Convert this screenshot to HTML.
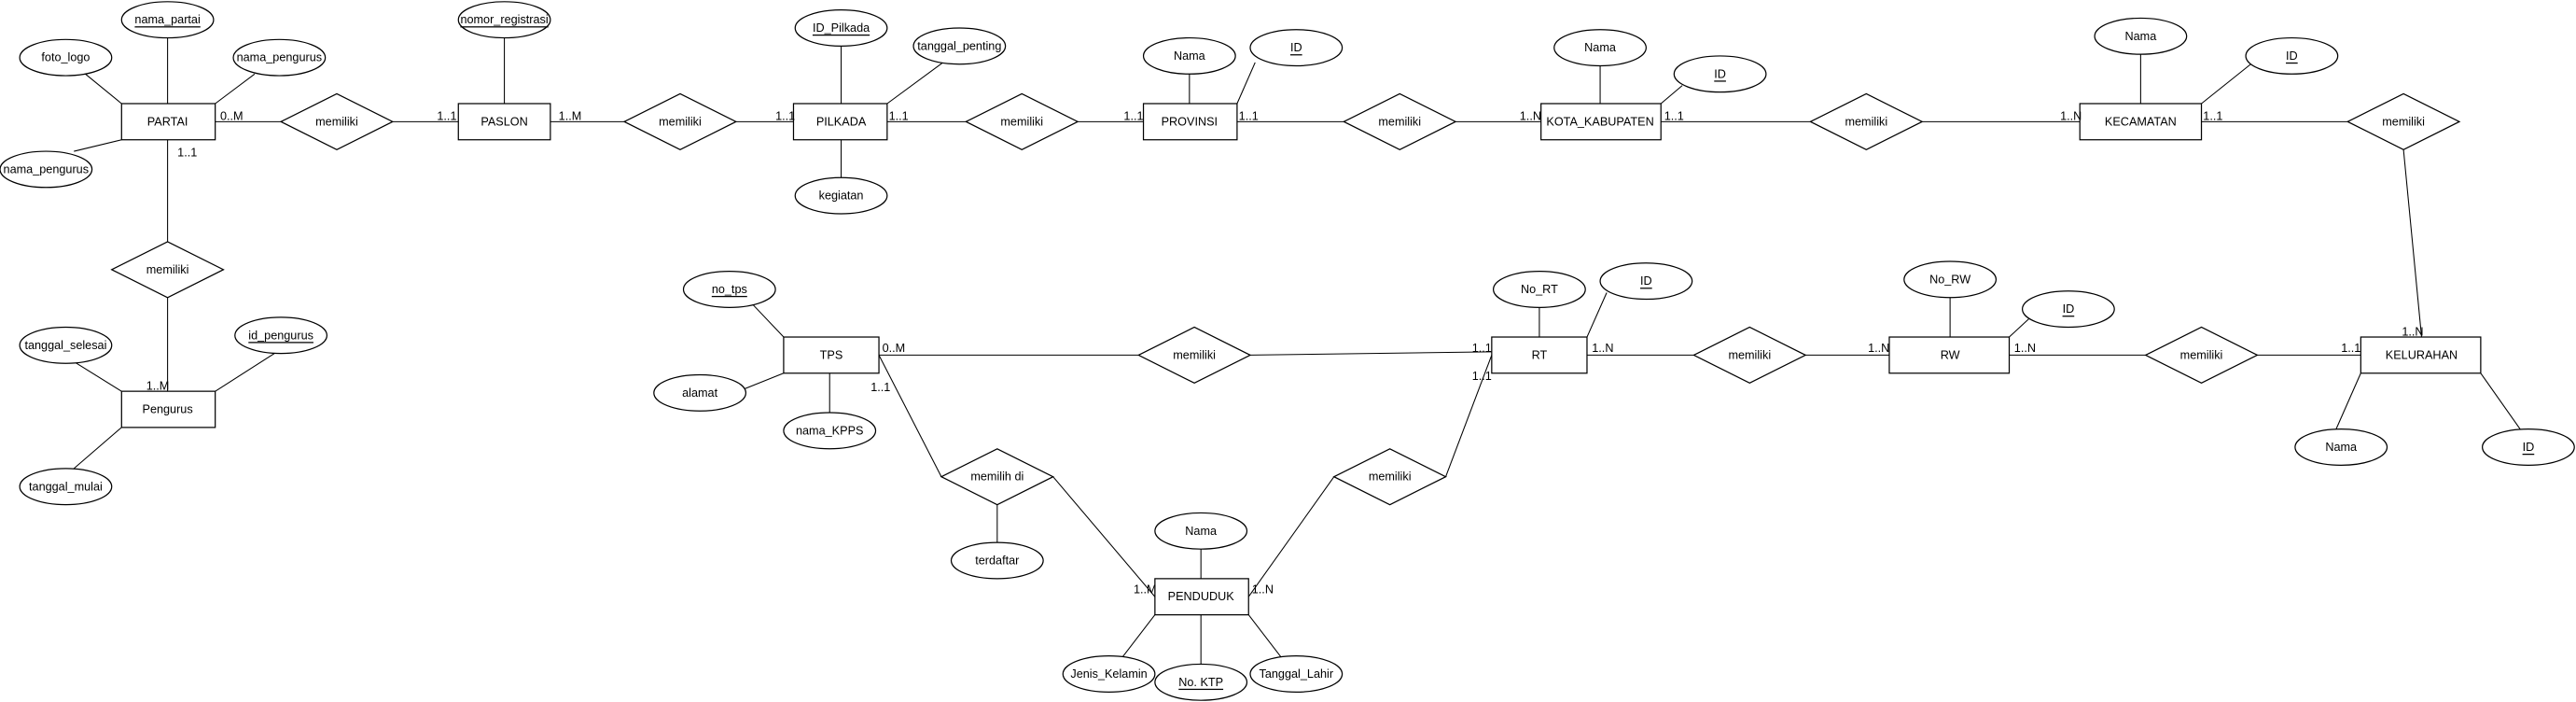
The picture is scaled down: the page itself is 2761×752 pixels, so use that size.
<!DOCTYPE html>
<html><head><meta charset="utf-8"><style>
html,body{margin:0;padding:0;background:#fff}
svg{display:block}
text{font-family:"Liberation Sans",sans-serif;font-size:7.2px;fill:#000}
</style></head><body>
<svg width="2761" height="752" viewBox="0 0 1568 427" xmlns="http://www.w3.org/2000/svg">
<g stroke="#000" stroke-width="0.6" fill="none">
<line x1="74" y1="63" x2="52" y2="45"/><line x1="102" y1="23" x2="102" y2="63"/><line x1="131" y1="63" x2="155" y2="45"/><line x1="74" y1="85" x2="45" y2="92"/>
<line x1="131" y1="74" x2="171" y2="74"/><line x1="239" y1="74" x2="279" y2="74"/>
<line x1="307" y1="23" x2="307" y2="63"/>
<line x1="335" y1="74" x2="380" y2="74"/><line x1="448" y1="74" x2="483" y2="74"/>
<line x1="512" y1="28" x2="512" y2="63"/><line x1="512" y1="85" x2="512" y2="108"/><line x1="540" y1="63" x2="574" y2="38"/>
<line x1="540" y1="74" x2="588" y2="74"/><line x1="656" y1="74" x2="696" y2="74"/>
<line x1="724" y1="45" x2="724" y2="63"/><line x1="753" y1="63" x2="764" y2="38"/>
<line x1="753" y1="74" x2="818" y2="74"/><line x1="886" y1="74" x2="938" y2="74"/>
<line x1="974" y1="40" x2="974" y2="63"/><line x1="1011" y1="63" x2="1024" y2="52"/>
<line x1="1011" y1="74" x2="1102" y2="74"/><line x1="1170" y1="74" x2="1266" y2="74"/>
<line x1="1303" y1="33" x2="1303" y2="63"/><line x1="1340" y1="63" x2="1370" y2="39"/>
<line x1="1340" y1="74" x2="1429" y2="74"/><line x1="1463" y1="91" x2="1474" y2="205"/>
<line x1="1437" y1="227" x2="1422" y2="261"/><line x1="1510" y1="227" x2="1534" y2="261"/>
<line x1="1374" y1="216" x2="1437" y2="216"/><line x1="1223" y1="216" x2="1306" y2="216"/>
<line x1="1187" y1="181" x2="1187" y2="205"/><line x1="1223" y1="205" x2="1236" y2="193"/>
<line x1="1099" y1="216" x2="1150" y2="216"/><line x1="966" y1="216" x2="1031" y2="216"/>
<line x1="937" y1="187" x2="937" y2="205"/><line x1="966" y1="205" x2="978" y2="178"/>
<line x1="761" y1="216" x2="908" y2="214"/><line x1="535" y1="216" x2="693" y2="216"/>
<line x1="477" y1="205" x2="458" y2="185"/><line x1="477" y1="227" x2="452" y2="237"/><line x1="505" y1="227" x2="505" y2="251"/>
<line x1="535" y1="216" x2="573" y2="290"/><line x1="641" y1="290" x2="703" y2="363"/><line x1="607" y1="307" x2="607" y2="330"/>
<line x1="880" y1="290" x2="908" y2="216"/><line x1="812" y1="290" x2="760" y2="363"/>
<line x1="731" y1="334" x2="731" y2="352"/><line x1="703" y1="374" x2="683" y2="400"/><line x1="731" y1="374" x2="731" y2="404"/><line x1="760" y1="374" x2="780" y2="400"/>
<line x1="102" y1="85" x2="102" y2="147"/><line x1="102" y1="181" x2="102" y2="238"/>
<line x1="74" y1="238" x2="45" y2="220"/><line x1="131" y1="238" x2="167" y2="215"/><line x1="74" y1="260" x2="45" y2="285"/>
</g>
<g stroke="#000" stroke-width="0.7" fill="#fff">
<rect x="74" y="63" width="57" height="22"/><rect x="279" y="63" width="56" height="22"/><rect x="483" y="63" width="57" height="22"/>
<rect x="696" y="63" width="57" height="22"/><rect x="938" y="63" width="73" height="22"/><rect x="1266" y="63" width="74" height="22"/>
<rect x="1437" y="205" width="73" height="22"/><rect x="1150" y="205" width="73" height="22"/><rect x="908" y="205" width="58" height="22"/>
<rect x="477" y="205" width="58" height="22"/><rect x="703" y="352" width="57" height="22"/><rect x="74" y="238" width="57" height="22"/>
<polygon points="171,74 205,57 239,74 205,91"/><polygon points="380,74 414,57 448,74 414,91"/><polygon points="588,74 622,57 656,74 622,91"/>
<polygon points="818,74 852,57 886,74 852,91"/><polygon points="1102,74 1136,57 1170,74 1136,91"/><polygon points="1429,74 1463,57 1497,74 1463,91"/>
<polygon points="1306,216 1340,199 1374,216 1340,233"/><polygon points="1031,216 1065,199 1099,216 1065,233"/><polygon points="693,216 727,199 761,216 727,233"/>
<polygon points="573,290 607,273 641,290 607,307"/><polygon points="812,290 846,273 880,290 846,307"/><polygon points="68,164 102,147 136,164 102,181"/>
<ellipse cx="40" cy="35" rx="28" ry="11"/><ellipse cx="102" cy="12" rx="28" ry="11"/><ellipse cx="170" cy="35" rx="28" ry="11"/><ellipse cx="28" cy="103" rx="28" ry="11"/>
<ellipse cx="307" cy="12" rx="28" ry="11"/><ellipse cx="512" cy="17" rx="28" ry="11"/><ellipse cx="512" cy="119" rx="28" ry="11"/><ellipse cx="584" cy="28" rx="28" ry="11"/>
<ellipse cx="724" cy="34" rx="28" ry="11"/><ellipse cx="789" cy="29" rx="28" ry="11"/><ellipse cx="974" cy="29" rx="28" ry="11"/><ellipse cx="1047" cy="45" rx="28" ry="11"/>
<ellipse cx="1303" cy="22" rx="28" ry="11"/><ellipse cx="1395" cy="34" rx="28" ry="11"/>
<ellipse cx="1425" cy="272" rx="28" ry="11"/><ellipse cx="1539" cy="272" rx="28" ry="11"/>
<ellipse cx="1187" cy="170" rx="28" ry="11"/><ellipse cx="1259" cy="188" rx="28" ry="11"/>
<ellipse cx="937" cy="176" rx="28" ry="11"/><ellipse cx="1002" cy="171" rx="28" ry="11"/>
<ellipse cx="444" cy="176" rx="28" ry="11"/><ellipse cx="426" cy="239" rx="28" ry="11"/><ellipse cx="505" cy="262" rx="28" ry="11"/>
<ellipse cx="607" cy="341" rx="28" ry="11"/><ellipse cx="731" cy="323" rx="28" ry="11"/><ellipse cx="675" cy="410" rx="28" ry="11"/><ellipse cx="731" cy="415" rx="28" ry="11"/><ellipse cx="789" cy="410" rx="28" ry="11"/>
<ellipse cx="40" cy="210" rx="28" ry="11"/><ellipse cx="171" cy="204" rx="28" ry="11"/><ellipse cx="40" cy="296" rx="28" ry="11"/>
</g>
<g text-anchor="middle" dominant-baseline="central">
<text x="102" y="74">PARTAI</text><text x="307" y="74">PASLON</text><text x="512" y="74">PILKADA</text><text x="724" y="74">PROVINSI</text>
<text x="974" y="74">KOTA_KABUPATEN</text><text x="1303" y="74">KECAMATAN</text><text x="1474" y="216">KELURAHAN</text><text x="1187" y="216">RW</text>
<text x="937" y="216">RT</text><text x="506" y="216">TPS</text><text x="731" y="363">PENDUDUK</text><text x="102" y="249">Pengurus</text>
<text x="205" y="74">memiliki</text><text x="414" y="74">memiliki</text><text x="622" y="74">memiliki</text><text x="852" y="74">memiliki</text>
<text x="1136" y="74">memiliki</text><text x="1463" y="74">memiliki</text><text x="1340" y="216">memiliki</text><text x="1065" y="216">memiliki</text>
<text x="727" y="216">memiliki</text><text x="607" y="290">memilih di</text><text x="846" y="290">memiliki</text><text x="102" y="164">memiliki</text>
<text x="40" y="35">foto_logo</text><text x="102" y="12" text-decoration="underline">nama_partai</text><text x="170" y="35">nama_pengurus</text><text x="28" y="103">nama_pengurus</text>
<text x="307" y="12" text-decoration="underline">nomor_registrasi</text><text x="512" y="17" text-decoration="underline">ID_Pilkada</text><text x="512" y="119">kegiatan</text><text x="584" y="28">tanggal_penting</text>
<text x="724" y="34">Nama</text><text x="789" y="29" text-decoration="underline">ID</text><text x="974" y="29">Nama</text><text x="1047" y="45" text-decoration="underline">ID</text>
<text x="1303" y="22">Nama</text><text x="1395" y="34" text-decoration="underline">ID</text>
<text x="1425" y="272">Nama</text><text x="1539" y="272" text-decoration="underline">ID</text>
<text x="1187" y="170">No_RW</text><text x="1259" y="188" text-decoration="underline">ID</text>
<text x="937" y="176">No_RT</text><text x="1002" y="171" text-decoration="underline">ID</text>
<text x="444" y="176" text-decoration="underline">no_tps</text><text x="426" y="239">alamat</text><text x="505" y="262">nama_KPPS</text>
<text x="607" y="341">terdaftar</text><text x="731" y="323">Nama</text><text x="675" y="410">Jenis_Kelamin</text><text x="731" y="415" text-decoration="underline">No. KTP</text><text x="789" y="410">Tanggal_Lahir</text>
<text x="40" y="210">tanggal_selesai</text><text x="171" y="204" text-decoration="underline">id_pengurus</text><text x="40" y="296">tanggal_mulai</text>
</g>
<g>
<text x="134" y="73">0..M</text><text x="266" y="73">1..1</text><text x="340" y="73">1..M</text><text x="472" y="73">1..1</text>
<text x="541" y="73">1..1</text><text x="684" y="73">1..1</text><text x="754" y="73">1..1</text><text x="925" y="73">1..N</text>
<text x="1013" y="73">1..1</text><text x="1254" y="73">1..N</text><text x="1341" y="73">1..1</text><text x="1462" y="204">1..N</text>
<text x="1425" y="214">1..1</text><text x="1226" y="214">1..N</text><text x="1137" y="214">1..N</text><text x="969" y="214">1..N</text>
<text x="896" y="214">1..1</text><text x="896" y="231">1..1</text><text x="537" y="214">0..M</text><text x="530" y="238">1..1</text>
<text x="690" y="361">1..M</text><text x="762" y="361">1..N</text><text x="108" y="95">1..1</text><text x="89" y="237">1..M</text>
</g>
</svg>
</body></html>
